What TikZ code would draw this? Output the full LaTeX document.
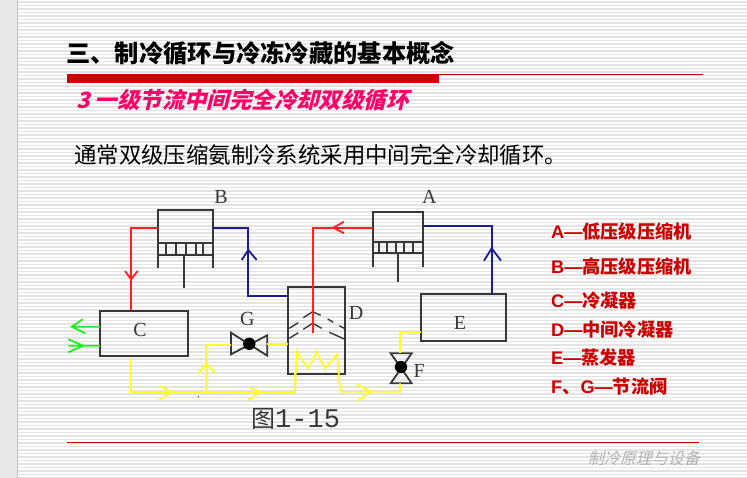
\documentclass[tikz,border=0pt]{standalone}
\usepackage{fontspec}
\setmainfont{Liberation Sans}
\setmonofont{Liberation Mono}
\newfontfamily\cjk{Noto Sans CJK SC}
\newfontfamily\cjkslant[FakeSlant=0.25]{Noto Sans CJK SC}
\newfontfamily\tagfont{Liberation Serif}
\definecolor{barred}{HTML}{CC0000}
\definecolor{subpink}{HTML}{FF0066}
\definecolor{pipered}{HTML}{FF2020}
\definecolor{pipeblue}{HTML}{1C1C96}
\definecolor{pipeyellow}{HTML}{FFFF20}
\definecolor{pipegreen}{HTML}{20EE20}
\definecolor{partgray}{HTML}{383838}
\begin{document}
\begin{tikzpicture}[x=1pt,y=-1pt]
  \tikzstyle{part}=[draw=partgray,line width=1.8pt,inner sep=0pt]
  \tikzstyle{tag}=[font=\fontsize{20}{20}\selectfont\tagfont,text=partgray,inner sep=0pt]
  \tikzstyle{pipe}=[line width=1.8pt]
  \tikzstyle{legend}=[anchor=west,text=barred,inner sep=0pt,font=\fontsize{18.2}{18}\selectfont\bfseries]
  \useasboundingbox (0,0) rectangle (747,478);
  \fill[white] (0,0) rectangle (747,478);
  \foreach \y in {2,5.5,...,478}
     \draw[black!11,line width=1.4pt] (18,\y) -- (747,\y);
  \fill[black!9] (0,0) rectangle (17,478);
  \draw[black!25,line width=1pt] (17.5,0) -- (17.5,478);
  % headings
  \node[anchor=west,inner sep=0pt] (title) at (66,53) {\fontsize{24.3}{24}\selectfont\cjk\bfseries 三、制冷循环与冷冻冷藏的基本概念};
  \fill[barred] (67,74) rectangle (439,83.5);
  \draw[barred,line width=.8pt] (439,74.4) -- (703,74.4);
  \node[anchor=west,inner sep=0pt,text=subpink] (sub) at (76,100) {\fontsize{22.4}{22}\selectfont\bfseries\cjkslant\bfseries 3 一级节流中间完全冷却双级循环};
  \node[anchor=west,inner sep=0pt] (intro) at (74,155) {\fontsize{22.4}{22}\selectfont\cjk 通常双级压缩氨制冷系统采用中间完全冷却循环。};
  % compressors
  \foreach \nm / \xl / \xr / \yt / \yb / \pt / \pb / \rod / \re / \cuts in
     {b/157.7/212.7/210/268/243/255/184.3/287.7/{166,175.7,186,195.7,203.3},
      a/372.7/423.3/211.7/267.3/241.7/253.3/398/281.7/{379.3,387.3,395.7,404.3,412.7}}{
     \draw[part] (\xl,\yb) |- (\xr,\yt) -- (\xr,\yb);
     \draw[part] (\xl,\pt) rectangle (\xr,\pb);
     \foreach \c in \cuts
        \draw[part] (\c,\pt) -- (\c,\pb);
     \draw[part] (\rod,\pb) -- (\rod,\re);
     \coordinate (\nm w) at (\xl,227.7);
     \coordinate (\nm e) at (\xr,227.7);
  }
  \node[part,minimum width=87.7pt,minimum height=45pt] (C) at (143.8,333.2) {};
  \node[part,minimum width=57pt,minimum height=87pt] (D) at (316.8,330.8) {};
  \node[part,minimum width=84.7pt,minimum height=47pt] (E) at (463.6,317.8) {};
  \node[tag] (labC) at (140,330) {C};
  \node[tag] (labD) at (356,312.7) {D};
  \node[tag] (labE) at (460,322.7) {E};
  \node[tag] (labB) at (221,197) {B};
  \node[tag] (labA) at (429.3,196.7) {A};
  \node[tag] (labG) at (247.3,319.3) {G};
  \node[tag] (labF) at (419.3,370.7) {F};
  % valves
  \coordinate (gc) at (249.3,343.8);
  \coordinate (fc) at (401,367);
  \draw[part] (231,332.7) -- (231,354.3) -- (267.3,335.3) -- (267.3,355.7) -- cycle;
  \draw[part] (390.7,353.3) -- (411.7,353.3) -- (390.7,383.3) -- (411.7,383.3) -- cycle;
  \fill[black] (gc) circle (6.2) (fc) circle (6.2);
  % baffles in D
  \draw[part,line width=1.4pt] (289.3,328.3) -- (298.3,322.7) (303.3,317.7) -- (312.7,311.7) -- (320.7,315.3)
     (327.7,319) -- (333.3,322.3) (339.3,325.7) -- (344.3,328.3)
     (289.3,338.3) -- (298.3,332.7) (303.3,329.3) -- (312.7,323.3) -- (321.7,328.3)
     (329.3,332.3) -- (344.3,339);
  % pipes
  \draw[pipe,pipered] (bw) -| (131,310);
  \draw[pipe,pipered] (125,271) -- (131,279.3) -- (137.7,271);
  \draw[pipe,pipered] (aw) -| (313.3,332.7);
  \draw[pipe,pipered] (344,221.7) -- (333.3,227.7) -- (344,233.3);
  \draw[pipe,pipeblue] (be) -| (248.3,296) -- (288.3,296);
  \draw[pipe,pipeblue] (241.7,260) -- (248.3,250) -- (256.7,260);
  \draw[pipe,pipeblue] (423.3,226) -| (491.7,294.3);
  \draw[pipe,pipeblue] (484,260.7) -- (491.7,248.3) -- (501,260.7);
  \draw[pipe,pipegreen] (100,326.7) -- (71.7,326.7) (82.7,319.3) -- (71.7,326.7) -- (85,333.3);
  \draw[pipe,pipegreen] (100,345.7) -- (68.3,345.7) (68.3,339.3) -- (83.3,345.7) -- (68.3,352.3);
  \draw[pipe,pipeyellow] (131,358.3) |- (295,392) -- (295,372.7);
  \draw[pipe,pipeyellow] (206,392) |- (231,345.3);
  \draw[pipe,pipeyellow] (267.3,344) -- (288.3,344);
  \draw[pipe,pipeyellow] (295,392) -- (296.7,351.7) -- (308.3,368.3) -- (316.7,351.7) -- (325,368.3) -- (337.3,354)
     -- (339.3,381.7) -- (340.7,391.7) -- (400,391.7) -- (400,383.3);
  \draw[pipe,pipeyellow] (421.3,332.3) -| (400,353.3);
  \draw[pipe,pipeyellow] (159,385.7) -- (171.7,392) -- (159,400);
  \draw[pipe,pipeyellow] (248.3,386.7) -- (260,392) -- (248.3,400);
  \draw[pipe,pipeyellow] (356.7,384.3) -- (370.7,391.7) -- (356.7,401);
  \draw[pipe,pipeyellow] (198.3,373.3) -- (206,364) -- (215.7,373.3);
  \fill[partgray] (198.3,396.7) circle (.7);
  \node[anchor=west,inner sep=0pt,text=partgray] (fig) at (251,419) {\fontsize{24}{24}\selectfont\cjk 图\fontsize{27}{24}\selectfont\ttfamily 1-15};
  % legend
  \node[legend] (lA) at (551,232) {A—\cjk\bfseries 低压级压缩机};
  \node[legend] (lB) at (551,267) {B—\cjk\bfseries 高压级压缩机};
  \node[legend] (lC) at (551,301) {C—\cjk\bfseries 冷凝器};
  \node[legend] (lD) at (551,330) {D—\cjk\bfseries 中间冷凝器};
  \node[legend] (lE) at (551,358) {E—\cjk\bfseries 蒸发器};
  \node[legend] (lF) at (551,387) {F\cjk\bfseries 、\normalfont\bfseries G—\cjk\bfseries 节流阀};
  \draw[barred,line width=.8pt] (67,442.3) -- (699,442.3);
  \node[anchor=east,inner sep=0pt,text=black!30] (foot) at (700,458) {\fontsize{16}{16}\selectfont\cjkslant 制冷原理与设备};
\end{tikzpicture}
\end{document}
